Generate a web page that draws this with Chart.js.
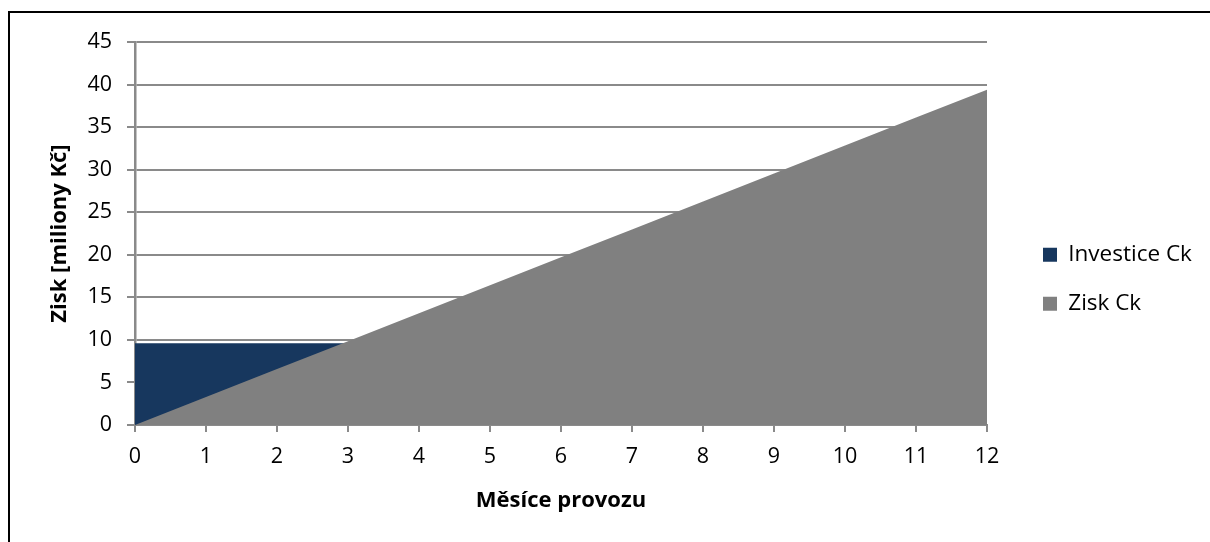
<!DOCTYPE html>
<html lang="cs">
<head>
<meta charset="utf-8">
<title>Zisk Ck</title>
<script src="https://cdn.jsdelivr.net/npm/chart.js@4/dist/chart.umd.min.js"></script>
<style>
  html, body { margin: 0; padding: 0; background: #fff; overflow: hidden; }
  #wrap { position: relative; width: 1210px; height: 542px; }
  #frame { position: absolute; left: 8px; top: 11px; width: 1300px; height: 600px; border-left: 2px solid #000; border-top: 2px solid #000; }
  #chart { position: absolute; left: 0; top: 0; }
</style>
</head>
<body>
<div id="wrap">
  <div id="frame"></div>
  <canvas id="chart" width="1210" height="542"></canvas>
</div>
<script>
// mesice provozu
const mesice = ['0', '1', '2', '3', '4', '5', '6', '7', '8', '9', '10', '11', '12'];

// investice - konstantni hodnota [mil. Kc]
const investice = [9.6, 9.6, 9.6, 9.6, 9.6, 9.6, 9.6, 9.6, 9.6, 9.6, 9.6, 9.6, 9.6];

// kumulovany zisk [mil. Kc]
const zisk = [0, 3.28, 6.57, 9.85, 13.13, 16.42, 19.7, 22.98, 26.27, 29.55, 32.83, 36.12, 39.4];

const FONT = '"Open Sans", Lato, sans-serif';
const SEDA = '#8a8a8a';

// pevne rozmery os a posun legendy vpravo
const pevnyLayout = {
  id: 'pevnyLayout',
  beforeLayout(chart) {
    const lg = chart.legend;
    if (lg && !lg._pevna) {
      const fit = lg.fit;
      lg.fit = function () {
        fit.call(this);
        this.width = 223;
      };
      lg._pevna = true;
    }
  },
  afterLayout(chart) {
    const lg = chart.legend;
    const h = lg.height;
    lg.left = 1016.5;
    lg.right = 1210;
    lg.top = 217;
    lg.bottom = 217 + h;
  }
};

new Chart(document.getElementById('chart'), {
  type: 'line',
  data: {
    labels: mesice,
    datasets: [
      {
        label: 'Investice Ck',
        data: investice,
        backgroundColor: '#17375e',
        borderWidth: 0,
        pointRadius: 0,
        fill: 'origin',
        order: 1
      },
      {
        label: 'Zisk Ck',
        data: zisk,
        backgroundColor: '#808080',
        borderWidth: 0,
        pointRadius: 0,
        fill: 'origin',
        order: 0
      }
    ]
  },
  options: {
    responsive: false,
    animation: false,
    layout: { padding: { top: 42, left: 0, right: 0, bottom: 0 } },
    elements: { line: { tension: 0 } },
    plugins: {
      tooltip: { enabled: false },
      legend: {
        position: 'right',
        align: 'start',
        labels: {
          font: { family: FONT, size: 22.5 },
          color: '#000',
          boxWidth: 14,
          boxHeight: 14,
          padding: 26.5,
          sort: (a, b) => a.datasetIndex - b.datasetIndex
        }
      }
    },
    scales: {
      x: {
        type: 'category',
        offset: false,
        afterFit(scale) { scale.height = 117; },
        grid: { drawOnChartArea: false, color: SEDA, lineWidth: 2, tickLength: 7 },
        border: { color: SEDA, width: 2 },
        ticks: { font: { family: FONT, size: 21.5 }, color: '#000', padding: 12, maxRotation: 0 },
        title: {
          display: true,
          text: 'Měsíce provozu',
          font: { family: FONT, size: 22, weight: 'bold' },
          color: '#000',
          padding: { top: 0, bottom: 28 }
        }
      },
      y: {
        min: 0,
        max: 45,
        afterFit(scale) { scale.width = 135; },
        grid: { color: SEDA, lineWidth: 2, tickLength: 8 },
        border: { color: SEDA, width: 2.5 },
        ticks: { stepSize: 5, font: { family: FONT, size: 21.5 }, color: '#000', padding: 15 },
        title: {
          display: true,
          text: 'Zisk [miliony Kč]',
          font: { family: FONT, size: 22, weight: 'bold' },
          color: '#000',
          padding: { top: 47, bottom: 0 }
        }
      }
    }
  },
  plugins: [pevnyLayout]
});
</script>
</body>
</html>
